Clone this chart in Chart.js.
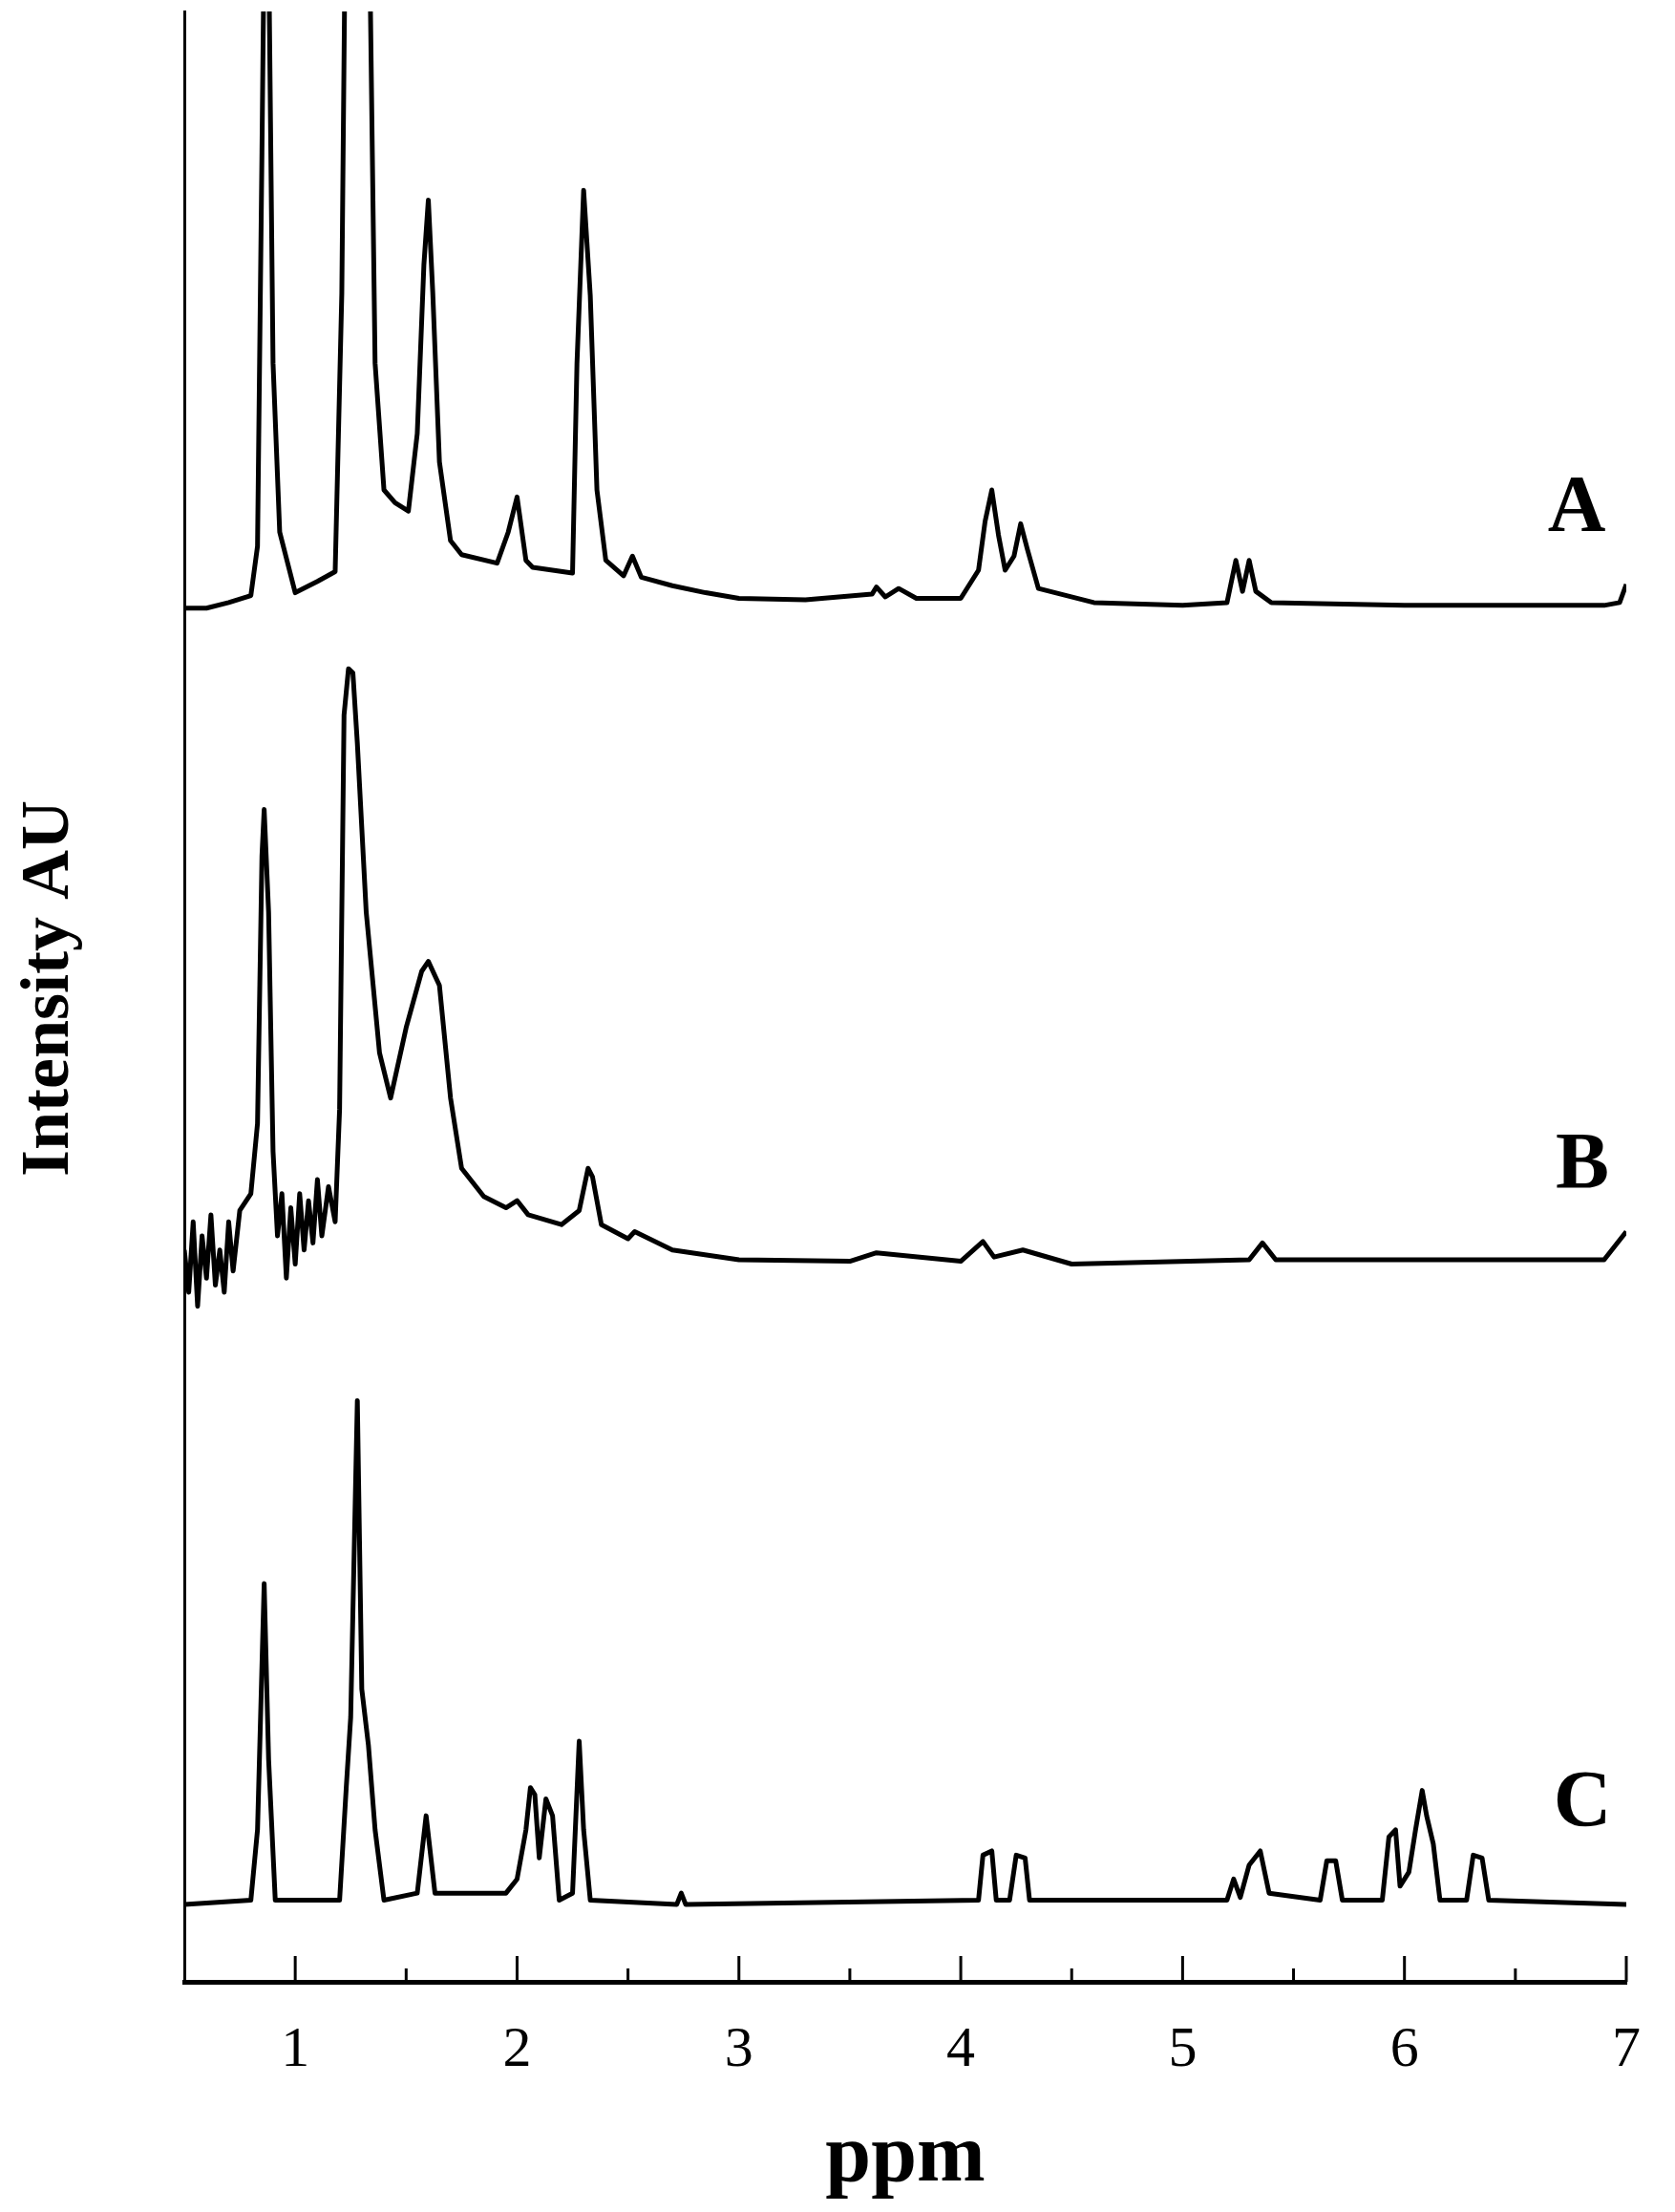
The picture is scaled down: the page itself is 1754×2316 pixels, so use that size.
<!DOCTYPE html>
<html><head><meta charset="utf-8">
<script src="https://cdn.jsdelivr.net/npm/chart.js@4"></script>
<style>html,body{margin:0;padding:0;background:#fff;overflow:hidden}#wrap{width:1754px;height:2316px}</style>
</head><body><div id="wrap"><canvas id="c"></canvas></div>
<script>
const xTickLabels = ["1","2","3","4","5","6","7"];
const specA_ppm = [0.5,0.6,0.7,0.8,0.83,0.85,0.86,0.88,0.9,0.93,1.0,1.1,1.18,1.21,1.225,1.24,1.27,1.32,1.335,1.36,1.4,1.45,1.51,1.55,1.58,1.6,1.62,1.65,1.7,1.75,1.91,1.96,2.0,2.04,2.07,2.25,2.27,2.3,2.33,2.36,2.4,2.48,2.52,2.56,2.7,2.85,3.0,3.3,3.6,3.62,3.66,3.72,3.8,4.0,4.08,4.11,4.14,4.17,4.2,4.24,4.27,4.3,4.35,4.6,5.0,5.2,5.24,5.27,5.3,5.33,5.4,6.0,6.9,6.97,7.0];
const specA_int = [976,976,980,985,1020,1300,1450,1450,1150,1030,987,995,1002,1200,1450,1450,1430,1450,1450,1150,1060,1051,1045,1100,1220,1266,1200,1080,1024,1014,1008,1030,1055,1010,1005,1001,1150,1273,1198,1060,1010,999,1013,998,992,987,983,982,986,991,984,990,983,983,1003,1038,1060,1028,1003,1013,1036,1018,990,980,978,980,1010,988,1010,988,980,978,978,980,993];
const specB_ppm = [0.5,0.52,0.54,0.56,0.58,0.6,0.62,0.64,0.66,0.68,0.7,0.72,0.75,0.8,0.83,0.85,0.86,0.88,0.9,0.92,0.94,0.96,0.98,1.0,1.02,1.04,1.06,1.08,1.1,1.12,1.15,1.18,1.2,1.22,1.24,1.26,1.28,1.32,1.38,1.43,1.5,1.57,1.6,1.65,1.7,1.75,1.85,1.95,2.0,2.05,2.2,2.28,2.32,2.34,2.38,2.5,2.53,2.7,3.0,3.5,3.62,4.0,4.1,4.15,4.28,4.5,5.3,5.36,5.42,6.9,7.0];
const specB_int = [520,490,540,480,530,500,545,495,520,490,540,505,548,560,610,800,833,760,590,530,560,500,550,510,560,520,555,525,570,530,565,540,620,900,933,930,880,760,660,628,678,718,725,708,628,578,558,550,555,545,538,548,578,572,538,528,533,520,513,512,518,512,526,515,520,510,513,525,513,513,533];
const specC_ppm = [0.5,0.8,0.83,0.86,0.88,0.91,1.2,1.23,1.25,1.28,1.3,1.33,1.36,1.4,1.55,1.59,1.63,1.95,2.0,2.04,2.06,2.08,2.1,2.13,2.16,2.19,2.25,2.28,2.3,2.33,2.72,2.74,2.76,4.08,4.1,4.14,4.16,4.22,4.25,4.29,4.31,5.2,5.23,5.26,5.3,5.35,5.39,5.62,5.65,5.69,5.72,5.9,5.93,5.96,5.98,6.02,6.05,6.08,6.1,6.13,6.16,6.28,6.31,6.35,6.38,7.0];
const specC_int = [55,58,108,283,158,58,58,138,188,413,208,168,108,58,63,118,63,63,73,108,138,133,88,130,118,58,63,171,108,58,55,63,55,58,90,93,58,58,90,88,58,58,73,60,83,93,63,58,86,86,58,58,103,108,68,78,108,136,118,98,58,58,90,88,58,55];
const seriesLabels = ["A","B","C"];

const toPts = (xs, ys) => xs.map((x, i) => ({x, y: ys[i]}));
const serif = "'Liberation Serif','DejaVu Serif',serif";

const tickPlugin = {
  id: 'ticksInside',
  afterDraw(chart) {
    const {ctx, scales: {x}, chartArea} = chart;
    ctx.save();
    ctx.strokeStyle = '#000'; ctx.lineWidth = 3;
    for (let k = 2; k <= 14; k++) {
      const v = k / 2;
      const px = x.getPixelForValue(v);
      const len = (k % 2 === 0) ? 27 : 14;
      ctx.beginPath(); ctx.moveTo(px, chartArea.bottom); ctx.lineTo(px, chartArea.bottom - len); ctx.stroke();
    }
    ctx.fillStyle = '#000';
    ctx.font = "bold 72px " + serif;
    ctx.textAlign = 'center'; ctx.textBaseline = 'middle';
    ctx.save(); ctx.translate(52, 1035); ctx.rotate(-Math.PI/2); ctx.fillText('Intensity AU', 0, 0); ctx.restore();
    ctx.font = "bold 84px " + serif;
    const pos = [[1651, 534], [1657, 1222], [1657, 1890]];
    seriesLabels.forEach((l, i) => ctx.fillText(l, pos[i][0], pos[i][1]));
    ctx.restore();
  }
};

const ds = (pts) => ({data: pts, borderColor: '#000', borderWidth: 5, pointRadius: 0, tension: 0, fill: false, borderJoinStyle: 'round'});

new Chart(document.getElementById('c'), {
  type: 'line',
  data: { datasets: [ds(toPts(specA_ppm, specA_int)), ds(toPts(specB_ppm, specB_int)), ds(toPts(specC_ppm, specC_int))] },
  options: {
    responsive: true, maintainAspectRatio: false, animation: false,
    devicePixelRatio: 1,
    layout: { padding: { left: 193, right: 4, top: 12, bottom: 0 } },
    plugins: { legend: { display: false }, tooltip: { enabled: false } },
    scales: {
      x: {
        type: 'linear', min: 0.5, max: 7,
        afterFit: s => { s.height = 241; },
        grid: { display: true, drawOnChartArea: false, drawTicks: false },
        border: { display: true, color: '#000', width: 5 },
        ticks: {
          stepSize: 0.5, autoSkip: false, maxRotation: 0, padding: 36, color: '#000',
          font: { family: serif, size: 60 },
          callback: v => Number.isInteger(v) && v >= 1 ? xTickLabels[v - 1] : ''
        },
        title: { display: true, text: 'ppm', color: '#000', font: { family: serif, size: 86, weight: 'bold' }, padding: { top: 45 } }
      },
      y: {
        min: 0, max: 1400,
        afterFit: s => { s.width = 0; },
        grid: { display: true, drawOnChartArea: false, drawTicks: false },
        border: { display: true, color: '#000', width: 3 },
        ticks: { display: false }
      }
    }
  },
  plugins: [tickPlugin]
});
</script></body></html>
